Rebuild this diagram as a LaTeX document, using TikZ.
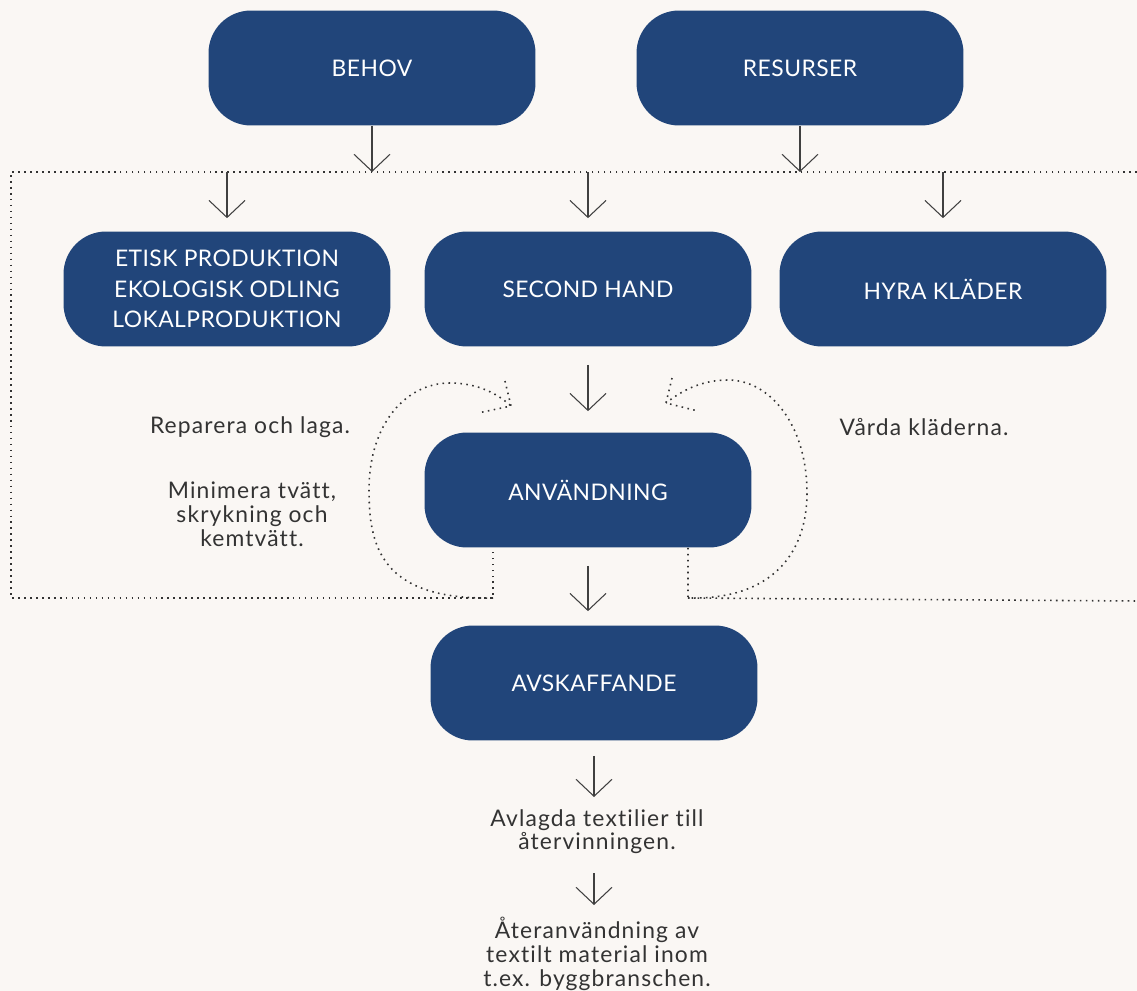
\documentclass[tikz,border=0pt]{standalone}
\usepackage{fontspec}
\setmainfont{Lato}[Ligatures={NoCommon,TeX}]
\usetikzlibrary{arrows.meta,positioning,calc}
\definecolor{boxblue}{HTML}{21457A}
\definecolor{paper}{HTML}{FAF7F4}
\tikzset{
  stage/.style={rounded corners=0.85cm, fill=boxblue, text=white, minimum width=6.54cm, minimum height=2.3cm, align=center, font=\fontsize{13}{17.5}\selectfont\addfontfeature{LetterSpace=2}},
  note/.style={align=center, font=\fontsize{13}{13.6}\selectfont\addfontfeature{LetterSpace=5}, text=black!80},
  arrow/.style={-{Straight Barb[length=3.4mm, width=7.2mm]}, line width=0.6pt, black!75},
  loopline/.style={dash pattern=on 0.9pt off 2.5pt, line width=0.9pt, black!80}
}
\begin{document}
\begin{tikzpicture}[x=0.02cm, y=-0.02cm]
  \fill[paper] (0,0) rectangle (1137,991);
  \useasboundingbox (0,0) rectangle (1137,991);
  % boxes
  \node[stage] (behov) at (372,68) {BEHOV};
  \node[stage] (resurser) at (800,68) {RESURSER};
  \node[stage] (etisk) at (227,289) {ETISK PRODUKTION\\EKOLOGISK ODLING\\LOKALPRODUKTION};
  \node[stage] (second) at (588,289) {SECOND HAND};
  \node[stage] (hyra) at (943,289) {HYRA KLÄDER};
  \node[stage] (anv) at (588,490) {ANVÄNDNING};
  \node[stage] (avsk) at (594,683) {AVSKAFFANDE};
  % texts
  \node[note] (reparera) at (250,427) {Reparera och laga.};
  \node[note] (minimera) at (252,514) {Minimera tvätt,\\skrykning och\\kemtvätt.};
  \node[note] (varda) at (924,427) {Vårda kläderna.};
  \node[note, anchor=north] (avlagda) at (597,803) {Avlagda textilier till\\återvinningen.};
  \node[note, anchor=north] (ateranv) at (597,911) {Återanvändning av\\textilt material inom\\t.ex. byggbranschen.};
  % dotted frame
  \coordinate (tl) at (11,172);
  \coordinate (tr) at (1137,172);
  \coordinate (bl) at (11,598);
  \coordinate (lb) at (493,598);
  \coordinate (rb) at (688,598);
  \coordinate (br) at (1137,601);
  \draw[loopline] (tr) -- (tl) -- (bl) -- (lb) -- (lb |- anv.south);
  \draw[loopline] (rb |- anv.south) -- (rb) -- (br);
  % loops
  \coordinate (lefttip) at (511,406);
  \coordinate (righttip) at (666,403);
  \draw[loopline] (lb) .. controls (380,600) and (369,545) .. (369,490) .. controls (369,425) and (405,383) .. (450,383) .. controls (478,383) and (498,394) .. (lefttip);
  \draw[loopline] (505,381) -- (lefttip) -- (478,413);
  \draw[loopline] (rb) .. controls (780,600) and (807,545) .. (807,493) .. controls (807,425) and (770,380) .. (728,380) .. controls (700,380) and (680,392) .. (righttip);
  \draw[loopline] (672,378) -- (righttip) -- (698,411);
  % arrows
  \draw[arrow] (behov.south) -- (behov.south |- tl);
  \draw[arrow] (resurser.south) -- (resurser.south |- tl);
  \draw[arrow, shorten >=2.6mm] (etisk.north |- tl) -- (etisk.north);
  \draw[arrow, shorten >=2.6mm] (second.north |- tl) -- (second.north);
  \draw[arrow, shorten >=2.6mm] (hyra.north |- tl) -- (hyra.north);
  \draw[arrow, shorten <=3.6mm, shorten >=4.2mm] (second) -- (anv);
  \draw[arrow, shorten <=3.6mm, shorten >=2.8mm] (anv.south) -- (anv.south |- avsk.north);
  \draw[arrow, shorten <=3mm, shorten >=1.2mm] (avsk.south) -- (avsk.south |- avlagda.north);
  \draw[arrow, shorten <=2.6mm, shorten >=1.2mm] (avsk.south |- avlagda.south) -- (avsk.south |- ateranv.north);
\end{tikzpicture}
\end{document}
